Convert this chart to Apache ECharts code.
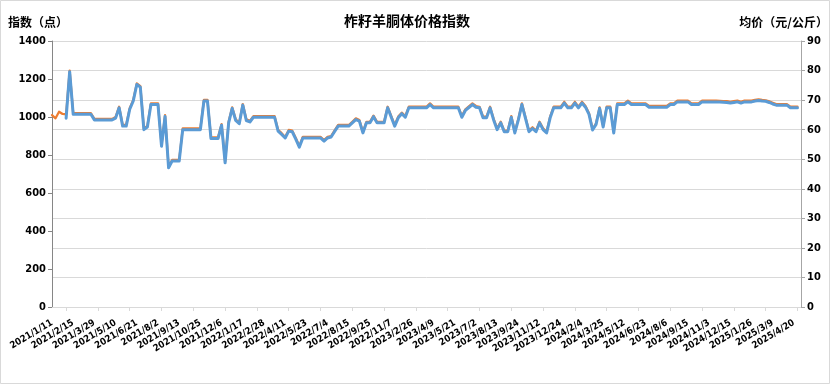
<!DOCTYPE html>
<html><head><meta charset="utf-8">
<script src="https://cdn.jsdelivr.net/npm/echarts@6/dist/echarts.min.js"></script>
<style>html,body{margin:0;padding:0;background:#fff}#c{width:831px;height:385px}</style>
</head><body><div id="c"></div>
<script>
const titleText = '柞籽羊胴体价格指数';
const leftAxisName = '指数（点）';
const rightAxisName = '均价（元/公斤）';

const tickLabels = ['2021/1/11','2021/2/15','2021/3/29','2021/5/10','2021/6/21','2021/8/2','2021/9/13','2021/10/25','2021/12/6','2022/1/17','2022/2/28','2022/4/11','2022/5/23','2022/7/4','2022/8/15','2022/9/25','2022/11/7','2023/2/26','2023/4/9','2023/5/21','2023/7/2','2023/8/13','2023/9/24','2023/11/12','2023/12/24','2024/2/4','2024/3/25','2024/5/12','2024/6/23','2024/8/6','2024/9/15','2024/11/3','2024/12/15','2025/1/26','2025/3/9','2025/4/20'];

// Index (left axis, 点)
const indexValues = [
1010,993,1028,1016,1014,1244,1020,1020,1020,1020,
1020,1020,990,990,990,990,990,990,1000,1054,
958,958,1046,1090,1177,1163,940,953,1072,1072,
1072,853,1010,738,774,774,774,940,940,940,
940,940,940,1090,1090,893,893,893,963,765,
975,1051,988,970,1068,988,980,1005,1005,1005,
1005,1005,1005,1005,932,915,895,932,928,890,
847,896,896,896,896,896,896,879,896,900,
930,958,958,958,958,975,993,984,922,975,
975,1007,975,975,975,1054,1006,958,1002,1023,
1005,1054,1054,1054,1054,1054,1054,1072,1054,1054,
1054,1054,1054,1054,1054,1054,1005,1040,1056,1072,
1058,1054,1002,1002,1054,990,940,975,928,928,
1005,922,990,1072,1000,928,946,928,975,940,
922,1002,1054,1054,1054,1080,1054,1054,1080,1054,
1080,1058,1020,937,967,1051,953,1054,1054,922,
1072,1072,1072,1086,1072,1072,1072,1072,1072,1058,
1058,1058,1058,1058,1058,1072,1072,1086,1086,1086,
1086,1072,1072,1072,1086,1086,1086,1086,1086,1085,
1084,1083,1080,1083,1086,1080,1086,1086,1086,1090,
1093,1090,1088,1082,1075,1068,1068,1068,1068,1054,
1054,1054
];

// Average price (right axis, 元/公斤)
const priceValues = [
null,null,null,null,63.9,79.6,65.2,65.2,65.2,65.2,
65.2,65.2,63.3,63.3,63.3,63.3,63.3,63.3,63.9,67.4,
61.2,61.2,66.9,69.7,75.3,74.4,60.0,60.9,68.5,68.5,
68.5,54.4,64.5,47.1,49.4,49.4,49.4,60.0,60.0,60.0,
60.0,60.0,60.0,69.7,69.7,57.0,57.0,57.0,61.5,48.8,
62.3,67.2,63.1,62.0,68.3,63.1,62.6,64.2,64.2,64.2,
64.2,64.2,64.2,64.2,59.5,58.4,57.2,59.5,59.3,56.8,
54.1,57.2,57.2,57.2,57.2,57.2,57.2,56.1,57.2,57.5,
59.4,61.2,61.2,61.2,61.2,62.3,63.4,62.9,58.9,62.3,
62.3,64.4,62.3,62.3,62.3,67.4,64.3,61.2,64.0,65.4,
64.2,67.4,67.4,67.4,67.4,67.4,67.4,68.5,67.4,67.4,
67.4,67.4,67.4,67.4,67.4,67.4,64.2,66.5,67.5,68.5,
67.6,67.4,64.0,64.0,67.4,63.3,60.0,62.3,59.3,59.3,
64.2,58.9,63.3,68.5,63.9,59.3,60.4,59.3,62.3,60.0,
58.9,64.0,67.4,67.4,67.4,69.0,67.4,67.4,69.0,67.4,
69.0,67.6,65.2,59.9,61.8,67.2,60.9,67.4,67.4,58.9,
68.5,68.5,68.5,69.4,68.5,68.5,68.5,68.5,68.5,67.6,
67.6,67.6,67.6,67.6,67.6,68.5,68.5,69.4,69.4,69.4,
69.4,68.5,68.5,68.5,69.4,69.4,69.4,69.4,69.4,69.4,
69.3,69.2,69.0,69.2,69.4,69.0,69.4,69.4,69.4,69.7,
69.9,69.7,69.6,69.2,68.7,68.3,68.3,68.3,68.3,67.4,
67.4,67.4
];

const CATEGORY_COUNT = 213;
const LABEL_EVERY = 6;
const categories = [];
for (let i = 0; i < CATEGORY_COUNT; i++) {
  categories.push(i % LABEL_EVERY === 0 && tickLabels[i / LABEL_EVERY] ? tickLabels[i / LABEL_EVERY] : ('#' + i));
}

const chart = echarts.init(document.getElementById('c'), null, {renderer: 'canvas'});
const fontNum = "'Liberation Sans Narrow','DejaVu Sans Condensed','Liberation Sans',sans-serif";
const fontCJK = "'Noto Sans CJK SC','Noto Sans',sans-serif";
chart.setOption({
  animation: false,
  backgroundColor: '#fff',
  title: {
    text: titleText, left: 339, top: 9,
    textStyle: {fontFamily: fontCJK, fontSize: 14, fontWeight: 'bold', color: '#000'}
  },
  graphic: [
    {type: 'rect', shape: {x: 0.5, y: 0.5, width: 829, height: 383}, style: {fill: 'none', stroke: '#d9d9d9', lineWidth: 1}, silent: true},
    {type: 'text', left: 8, top: 16, style: {text: leftAxisName, font: "bold 12px 'Noto Sans CJK SC', sans-serif", fill: '#000'}},
    {type: 'text', right: 3, top: 16, style: {text: rightAxisName, font: "bold 12px 'Noto Sans CJK SC', sans-serif", fill: '#000'}}
  ],
  grid: {left: 52, right: 30, top: 41, bottom: 78, containLabel: false},
  xAxis: {
    type: 'category', data: categories, boundaryGap: false,
    axisLine: {lineStyle: {color: '#d9d9d9', width: 1}},
    axisTick: {show: true, length: 4, lineStyle: {color: '#d9d9d9'}, interval: function (i) { return i >= 4 && (i - 4) % 9 === 0; }},
    axisLabel: {interval: LABEL_EVERY - 1, rotate: 31, margin: 15, fontSize: 9.5, fontWeight: 'bold', color: '#000', fontFamily: fontNum},
    splitLine: {show: false}
  },
  yAxis: [
    {type: 'value', min: 0, max: 1400, interval: 200, position: 'left',
     axisLine: {show: true, lineStyle: {color: '#868686'}},
     axisTick: {show: true, length: 4, lineStyle: {color: '#868686'}},
     axisLabel: {fontSize: 11, fontWeight: 'bold', color: '#000', fontFamily: fontNum, margin: 6, formatter: function (v) { return String(v); }},
     splitLine: {show: false}},
    {type: 'value', min: 0, max: 90, interval: 10, position: 'right',
     axisLine: {show: true, lineStyle: {color: '#a6a6a6'}},
     axisTick: {show: true, length: 4, lineStyle: {color: '#a6a6a6'}},
     axisLabel: {fontSize: 11, fontWeight: 'bold', color: '#000', fontFamily: fontNum, margin: 6},
     splitLine: {show: true, lineStyle: {color: '#d9d9d9', width: 1}}}
  ],
  series: [
    {name: '指数', type: 'line', yAxisIndex: 0, data: indexValues, symbol: 'none', smooth: false,
     lineStyle: {color: '#ED7D31', width: 2.25, join: 'round', cap: 'round'}, z: 2},
    {name: '均价', type: 'line', yAxisIndex: 1, data: priceValues, symbol: 'none', smooth: false, connectNulls: false,
     lineStyle: {color: '#5B9BD5', width: 3, join: 'round', cap: 'round'}, z: 3}
  ]
});
</script>
</body></html>
